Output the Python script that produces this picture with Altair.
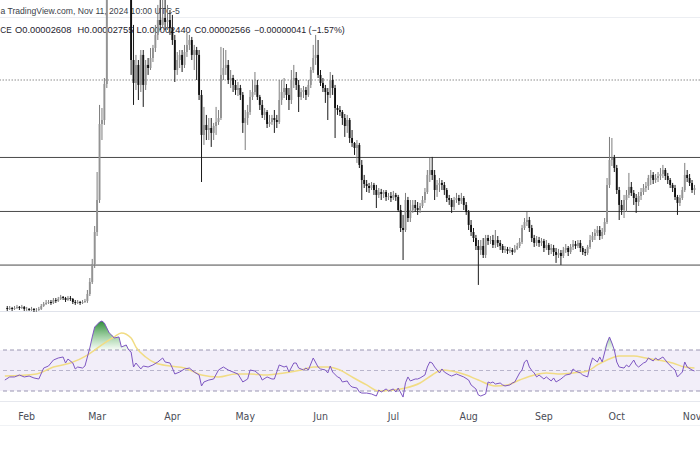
import altair as alt
import pandas as pd

# ---------------- data (price in units of 1e-6) ----------------
first_open = 8.56
close = [
    8.49, 8.56, 8.49, 8.56, 8.64, 8.56, 8.64, 8.49,
    8.49, 8.41, 8.49, 8.41, 8.41, 8.49, 8.71, 8.86, 8.94, 9.01, 8.94, 9.16, 9.09, 9.24, 9.39, 9.31, 9.16, 9.31, 9.24, 9.01, 8.94, 9.01, 8.94, 9.01, 9.09, 9.61, 10.51, 11.86, 14.26,
    16.66, 22.36, 22.66, 25.36, 33.91, 35.04, 34.66, 35.41, 35.04, 34.29, 34.66, 33.91, 34.51, 32.79, 27.16, 25.44, 26.79, 25.29, 27.54, 25.29, 26.79, 26.56, 27.31, 28.06, 29.04, 30.16, 29.79, 30.31, 30.01, 30.16, 29.56,
    28.66, 26.41, 27.16, 27.54, 26.79, 27.76, 28.29, 28.66, 27.54, 27.91, 27.54, 24.54, 21.54, 22.29, 21.91, 22.06, 21.69, 22.21, 22.51, 22.81, 26.04, 26.56, 26.79, 25.66, 25.81, 25.29, 24.91, 25.06, 24.54, 22.44,
    22.81, 23.26, 24.39, 24.76, 25.29, 24.39, 23.79, 23.04, 23.26, 22.36, 22.51, 22.81, 22.66, 22.51, 24.16, 24.76, 25.06, 24.54, 24.16, 25.66, 25.81, 25.29, 24.39, 24.76, 24.91, 24.54, 25.29, 26.41, 27.31, 27.54, 26.04,
    25.44, 25.06, 24.76, 24.54, 25.66, 25.06, 23.56, 23.41, 23.26, 22.81, 22.21, 22.66, 21.31, 20.94, 20.56, 20.79, 19.29, 18.16, 17.86, 17.71, 17.56, 17.79, 17.41, 17.04, 17.26, 17.11, 17.26, 16.89, 16.96, 16.81,
    17.04, 16.89, 15.91, 14.56, 14.41, 16.66, 15.31, 15.91, 16.29, 16.06, 15.91, 16.21, 16.66, 17.26, 18.54, 18.91, 18.54, 17.41, 17.79, 17.94, 17.79, 17.41, 16.81, 16.66, 16.14, 16.66, 16.81, 16.59, 16.81, 16.29, 15.76,
    14.79, 14.26, 13.81, 13.21, 12.91, 13.21, 12.54, 13.81, 13.59, 13.66, 13.29, 13.66, 13.44, 13.21, 12.91, 12.99, 12.84, 12.91, 12.76, 12.99, 13.21, 13.51, 14.56, 15.01, 15.16, 14.56, 13.81, 13.44, 13.66, 13.44, 13.59,
    13.06, 13.29, 12.91, 13.06, 12.76, 12.54, 12.69, 12.46, 12.91, 13.06, 12.76, 13.14, 13.36, 13.21, 13.44, 13.06, 12.76, 12.69, 13.14, 13.66, 13.96, 14.19, 14.41, 13.96, 14.26, 15.01, 17.79, 19.66, 19.81, 19.06,
    17.41, 16.29, 15.91, 16.66, 17.04, 17.64, 17.19, 16.81, 16.51, 16.96, 17.26, 17.56, 17.71, 18.31, 18.54, 18.16, 18.31, 18.46, 18.61, 18.91, 18.46, 18.16, 17.79, 17.56, 16.89, 16.44, 16.81, 17.41, 18.54, 18.31, 17.94,
    17.41, 17.56,
]
high = [
    8.71, 8.71, 8.64, 8.71, 8.79, 8.71, 8.79, 8.71,
    8.64, 8.56, 8.64, 8.56, 8.56, 8.64, 8.86, 9.01, 9.16, 9.16, 9.16, 9.31, 9.31, 9.39, 9.54, 9.46, 9.39, 9.46, 9.46, 9.31, 9.16, 9.16, 9.09, 9.16, 9.24, 9.91, 10.81, 12.24, 14.71,
    18.76, 23.79, 23.56, 25.81, 46.66, 38.41, 36.91, 37.66, 36.54, 36.16, 36.31, 35.79, 36.01, 35.41, 33.91, 29.79, 27.54, 27.16, 27.91, 27.91, 27.16, 27.31, 28.06, 28.29, 29.79, 31.29, 31.66, 32.04, 31.66, 31.29, 30.91,
    30.54, 29.04, 27.76, 27.91, 27.91, 28.29, 29.19, 29.04, 28.89, 28.29, 28.14, 27.91, 24.91, 23.64, 23.04, 22.81, 22.81, 22.44, 23.64, 23.41, 28.14, 28.06, 27.91, 27.16, 26.41, 26.04, 25.66, 25.51, 25.29, 24.76,
    23.41, 23.79, 24.91, 25.66, 26.26, 25.66, 24.54, 24.16, 23.56, 23.41, 23.04, 23.04, 23.41, 23.04, 25.66, 25.66, 25.81, 25.36, 25.06, 26.41, 26.79, 26.26, 25.66, 25.06, 25.21, 25.14, 25.66, 26.64, 28.29, 29.04, 28.66,
    26.41, 25.81, 25.29, 25.06, 26.26, 26.04, 25.29, 23.79, 23.71, 23.41, 23.11, 23.04, 22.81, 21.91, 21.01, 21.16, 20.94, 19.66, 18.54, 18.16, 17.94, 18.01, 17.94, 17.79, 17.56, 17.49, 17.41, 17.41, 17.19, 17.26,
    17.34, 17.19, 17.04, 16.29, 15.54, 17.19, 16.89, 16.66, 16.66, 16.66, 16.51, 16.44, 16.96, 17.56, 18.91, 19.81, 19.89, 18.91, 18.16, 18.31, 18.16, 18.01, 17.56, 17.04, 16.81, 16.89, 17.19, 17.04, 17.19, 16.96, 16.51,
    15.91, 15.16, 14.56, 14.04, 13.66, 13.66, 13.81, 14.04, 14.04, 13.96, 14.04, 14.41, 13.96, 13.66, 13.36, 13.21, 13.14, 13.14, 13.06, 13.29, 13.44, 13.81, 14.79, 15.31, 15.76, 15.39, 14.79, 14.04, 13.96, 13.89, 13.81,
    13.74, 13.66, 13.44, 13.36, 13.29, 13.06, 12.99, 12.91, 13.14, 13.36, 13.21, 13.36, 13.66, 13.59, 13.66, 13.66, 13.21, 12.99, 13.29, 14.04, 14.26, 14.49, 14.71, 14.71, 14.56, 15.31, 18.31, 21.39, 21.31, 20.04,
    19.29, 17.64, 16.66, 17.04, 17.41, 18.69, 18.01, 17.41, 17.11, 17.26, 17.56, 17.86, 18.01, 18.54, 18.91, 18.76, 18.61, 18.76, 19.06, 19.29, 19.06, 18.69, 18.31, 17.94, 17.79, 17.04, 17.04, 17.64, 19.44, 18.91, 18.61,
    18.16, 17.79,
]
low = [
    8.34, 8.41, 8.34, 8.41, 8.49, 8.41, 8.49, 8.34,
    8.34, 8.34, 8.34, 8.26, 8.26, 8.34, 8.41, 8.64, 8.79, 8.86, 8.79, 8.86, 8.94, 9.01, 9.16, 9.16, 9.01, 9.09, 9.09, 8.86, 8.79, 8.86, 8.79, 8.86, 8.94, 8.94, 9.46, 10.36, 11.56,
    13.96, 16.44, 21.16, 22.29, 25.06, 32.26, 32.41, 32.79, 33.54, 32.79, 32.41, 32.26, 32.79, 32.04, 26.04, 23.79, 24.91, 24.16, 24.76, 23.64, 24.91, 26.04, 26.41, 27.01, 27.76, 28.66, 29.41, 29.56, 29.41, 29.41, 29.04,
    28.29, 25.51, 26.04, 26.56, 26.26, 26.56, 27.39, 27.91, 27.16, 26.41, 25.66, 24.16, 18.01, 20.79, 21.16, 21.16, 20.64, 21.16, 21.54, 22.29, 22.66, 25.66, 26.04, 25.36, 25.06, 24.76, 24.54, 24.46, 24.16, 21.69,
    20.41, 22.29, 23.04, 24.16, 24.54, 24.16, 23.41, 22.81, 22.66, 22.06, 22.14, 22.29, 21.69, 22.06, 22.36, 23.79, 24.31, 24.16, 23.41, 23.86, 25.06, 24.91, 23.26, 24.16, 24.31, 24.16, 24.39, 25.06, 26.19, 26.79, 25.81,
    25.21, 24.76, 23.94, 22.66, 24.31, 24.54, 21.31, 23.04, 22.96, 22.29, 21.39, 21.69, 20.94, 20.64, 20.04, 19.44, 19.06, 16.66, 17.56, 17.26, 17.19, 17.41, 17.04, 16.06, 16.81, 16.66, 16.81, 16.59, 16.66, 16.51,
    16.66, 16.59, 15.76, 14.26, 12.16, 14.26, 15.01, 15.01, 15.69, 15.76, 15.54, 15.69, 16.06, 16.44, 17.11, 18.01, 18.16, 16.66, 16.89, 17.26, 17.41, 17.04, 16.51, 16.29, 15.69, 15.91, 16.44, 16.29, 16.36, 15.91, 15.54,
    14.41, 13.96, 13.51, 12.91, 10.29, 12.54, 12.31, 12.31, 13.29, 13.36, 13.06, 13.06, 13.14, 12.91, 12.69, 12.69, 12.61, 12.69, 12.54, 12.69, 12.91, 13.06, 13.36, 14.41, 14.71, 14.26, 13.51, 13.14, 13.21, 13.14, 13.21,
    12.76, 12.91, 12.54, 12.61, 12.46, 11.94, 12.31, 11.79, 12.31, 12.69, 12.46, 12.61, 12.91, 12.99, 13.06, 12.76, 12.54, 12.46, 12.54, 12.99, 13.51, 13.66, 13.96, 13.66, 13.74, 14.04, 14.86, 17.56, 19.21, 18.76,
    17.11, 15.16, 15.54, 15.31, 15.76, 16.81, 16.96, 16.29, 15.69, 16.21, 16.66, 17.04, 17.26, 17.41, 17.79, 17.86, 17.94, 18.01, 18.16, 18.31, 18.16, 17.86, 17.56, 17.26, 16.66, 15.54, 16.21, 16.66, 17.26, 18.01, 17.71,
    17.19, 17.04,
]
levels = [19.85, 15.80, 11.78]
last_price = 25.66

# RSI (days counted from 2024-01-23)
rsi_day = [
    0, 2, 4, 6, 8, 10, 12, 14, 16, 18,
    20, 22, 24, 25, 26, 28, 29, 30, 32, 33,
    35, 36, 37, 39, 40, 41, 43, 44, 45, 47,
    48, 50, 51, 52, 53, 54, 56, 57, 59, 61,
    63, 65, 66, 68, 69, 70, 72, 74, 76, 78,
    80, 81, 82, 84, 86, 88, 90, 92, 94, 96,
    98, 100, 101, 103, 105, 106, 108, 110, 111, 113,
    115, 116, 117, 119, 120, 121, 123, 124, 125, 127,
    129, 130, 132, 133, 134, 135, 137, 138, 139, 141,
    142, 143, 145, 146, 147, 149, 151, 153, 154, 155,
    157, 158, 160, 161, 162, 164, 165, 166, 167, 169,
    170, 171, 173, 174, 175, 176, 177, 179, 180, 181,
    183, 184, 186, 187, 189, 191, 192, 194, 195, 196,
    198, 199, 200, 201, 202, 204, 205, 206, 208, 209,
    210, 212, 213, 214, 215, 216, 217, 218, 219, 220,
    222, 223, 225, 226, 227, 229, 230, 231, 233, 234,
    235, 237, 238, 240, 241, 242, 244, 245, 246, 248,
    249, 250, 251, 252, 253, 255, 256, 257, 259, 260,
    261, 263, 264, 265, 267, 268, 269, 271, 272, 273,
    275, 276, 277, 279, 280, 281, 283, 284,
]
rsi_value = [
    40.7, 43.7, 43.7, 45.6, 43.7, 44.6, 42.7, 41.7, 52.4, 54.4,
    60.2, 62.2, 63.2, 57.3, 61.2, 57.3, 51.5, 53.4, 52.4, 54.4,
    72.0, 82.7, 92.4, 97.3, 98.3, 96.3, 86.6, 84.6, 81.7, 82.7,
    72.9, 74.9, 70.0, 68.0, 53.4, 57.3, 51.5, 54.4, 53.4, 55.4,
    58.3, 62.2, 58.3, 57.3, 52.4, 46.6, 48.5, 51.5, 52.4, 48.5,
    45.6, 34.9, 38.8, 40.7, 41.7, 50.5, 53.4, 50.5, 48.5, 46.6,
    38.8, 41.7, 50.5, 49.5, 45.6, 40.7, 43.7, 41.7, 41.7, 55.4,
    53.4, 54.4, 48.5, 57.3, 57.3, 52.4, 50.5, 52.4, 50.5, 62.2,
    53.4, 51.5, 50.5, 47.6, 54.4, 48.5, 43.7, 42.7, 38.8, 39.8,
    35.9, 33.9, 32.9, 29.0, 28.0, 28.0, 27.1, 25.1, 31.0, 29.0,
    32.0, 30.0, 32.0, 29.0, 32.9, 24.1, 38.0, 43.7, 39.8, 41.7,
    41.7, 42.7, 45.6, 53.4, 58.3, 57.3, 53.4, 47.6, 51.5, 48.5,
    45.6, 44.6, 46.6, 45.6, 43.7, 40.7, 35.9, 32.0, 26.1, 25.1,
    27.1, 38.8, 37.8, 38.8, 36.8, 37.8, 35.9, 34.9, 35.9, 37.8,
    38.8, 47.6, 50.5, 58.3, 60.2, 53.4, 50.0, 47.6, 43.7, 45.6,
    41.7, 43.7, 39.8, 42.7, 38.8, 41.7, 43.7, 45.6, 46.6, 51.5,
    49.5, 47.6, 45.6, 43.7, 54.4, 62.2, 58.3, 63.2, 58.3, 76.8,
    82.7, 76.8, 70.0, 58.3, 53.4, 52.4, 55.4, 53.4, 60.2, 55.4,
    53.4, 57.3, 58.3, 62.2, 59.3, 62.2, 60.2, 63.2, 60.2, 57.3,
    52.4, 50.5, 43.7, 48.5, 58.3, 53.4, 50.5, 49.5,
]
ma_day = [0, 13, 20, 27, 34, 41, 45, 48, 52, 54, 58, 62, 68, 74, 81, 88, 95, 101, 108, 115,
          122, 127, 133, 138, 143, 149, 154, 160, 165, 171, 176, 180, 184, 190, 195, 202, 207, 212, 218, 223,
          229, 234, 240, 244, 248, 253, 259, 264, 269, 275, 280, 284]
ma_value = [44.6, 46.6, 53.4, 57.3, 65.1, 76.8, 82.7, 86.6, 81.7, 72.9, 63.2, 57.3, 54.4, 52.4, 45.6, 43.7, 46.6, 46.6, 45.6, 47.6,
            50.5, 53.4, 53.4, 50.5, 43.7, 35.9, 30.0, 31.0, 32.9, 37.8, 45.6, 50.5, 49.5, 45.6, 40.7, 34.9, 35.9, 40.7, 45.6, 47.6,
            46.6, 47.6, 49.5, 55.4, 60.2, 64.1, 64.1, 62.2, 60.2, 57.3, 53.4, 52.4]
rsi_levels = [70, 50, 30]

month_names = ["Feb", "Mar", "Apr", "May", "Jun", "Jul", "Aug", "Sep", "Oct", "Nov"]
month_starts = ["2024-02-01", "2024-03-01", "2024-04-01", "2024-05-01", "2024-06-01",
                "2024-07-01", "2024-08-01", "2024-09-01", "2024-10-01", "2024-11-01"]

header_line1 = "a TradingView.com, Nov 11, 2024 10:00 UTC-5"
header_items = ["CE", "O0.00002608", "H0.00002755", "L0.00002440", "C0.00002566", "\u22120.00000041 (\u22121.57%)"]

# ---------------- tables ----------------
origin = pd.Timestamp("2024-01-23")
n = min(len(close), len(high), len(low))
dates = pd.date_range("2024-01-24", periods=n, freq="D")
candles = pd.DataFrame({
    "day": [(d - origin).days for d in dates],
    "open": [first_open] + close[: n - 1],
    "close": close[:n],
    "high": high[:n],
    "low": low[:n],
})
m = min(len(rsi_day), len(rsi_value))
rsi_df = pd.DataFrame({"day": rsi_day[:m], "rsi": rsi_value[:m]})
k = min(len(ma_day), len(ma_value))
ma_df = pd.DataFrame({"day": ma_day[:k], "ma": ma_value[:k]})
month_df = pd.DataFrame({"label": month_names,
                         "day": [(pd.Timestamp(s) - origin).days for s in month_starts]})

# ---------------- scales ----------------
W, H = 700, 450
x_scale = alt.Scale(domain=[0.07, 284.22], nice=False, zero=False)
p_scale = alt.Scale(domain=[8.26, 31.66], range=[312, 0], nice=False, zero=False)
r_scale = alt.Scale(domain=[0, 100], range=[421.75, 319.25], nice=False, zero=False)
X = alt.X("day:Q", scale=x_scale, axis=None)
is_up = alt.datum.close >= alt.datum.open

one = pd.DataFrame({"v": [0]})


def hline(ypix, color, width=1.0):
    return alt.Chart(one).mark_rule(color=color, strokeWidth=width).encode(y=alt.value(ypix))


def label(text, xpix, ypix, size, align="left", color="#1e222d"):
    return alt.Chart(pd.DataFrame({"t": [text]})).mark_text(
        align=align, baseline="alphabetic", fontSize=size, color=color,
        font="Liberation Sans, Arial, sans-serif"
    ).encode(x=alt.value(xpix), y=alt.value(ypix), text="t:N")


separators = [hline(17.5, "#eceef2"), hline(311.5, "#e0e3eb"), hline(401.5, "#e6e8ee"), hline(425.5, "#f0f2f5")]

level_rules = alt.Chart(pd.DataFrame({"price": levels})).mark_rule(color="#4a4a4a", strokeWidth=1).encode(
    y=alt.Y("price:Q", scale=p_scale, axis=None))
last_rule = alt.Chart(pd.DataFrame({"price": [last_price]})).mark_rule(
    color="#8d8d8d", strokeWidth=1, strokeDash=[1.5, 1.5]).encode(
    y=alt.Y("price:Q", scale=p_scale, axis=None))

head_x = [0.3, 15, 77.5, 136.5, 194.5, 254]
head_size = [8.2, 9.3, 9.3, 9.3, 9.3, 8.9]
header = [label(header_line1, 0.5, 13.5, 8.6, color="#3b3f4a")]
for i, t in enumerate(header_items):
    header.append(label(t, head_x[i], 32.7, head_size[i]))

wicks = alt.Chart(candles).mark_rule(strokeWidth=1, clip=True).encode(
    x=X,
    y=alt.Y("low:Q", scale=p_scale, axis=None), y2="high:Q",
    color=alt.condition(is_up, alt.value("#7d7d7d"), alt.value("#1a1a1a")))
bodies = alt.Chart(candles).mark_bar(size=1.9, clip=True).encode(
    x=X,
    y=alt.Y("open:Q", scale=p_scale, axis=None), y2="close:Q",
    color=alt.condition(is_up, alt.value("#939393"), alt.value("#111111")))

band = alt.Chart(pd.DataFrame({"hi": [70], "lo": [30]})).mark_rect(color="#7e57c2", opacity=0.1).encode(
    x=alt.value(0), x2=alt.value(W),
    y=alt.Y("hi:Q", scale=r_scale, axis=None), y2="lo:Q")
guides = alt.Chart(pd.DataFrame({"v": rsi_levels, "c": ["a", "b", "a"]})).mark_rule(
    strokeWidth=1, strokeDash=[4, 3]).encode(
    y=alt.Y("v:Q", scale=r_scale, axis=None),
    color=alt.Color("c:N", scale=alt.Scale(domain=["a", "b"], range=["#9a96b2", "#b9b5cc"]), legend=None))

ob_fill = alt.Chart(rsi_df).transform_calculate(
    top="max(datum.rsi, 70)", base="70").mark_area(
    color=alt.Gradient(gradient="linear",
                       stops=[alt.GradientStop(color="#2e8b3a", offset=0),
                              alt.GradientStop(color="rgba(76,175,80,0.04)", offset=1)],
                       x1=1, x2=1, y1=0, y2=1)).encode(
    x=X, y=alt.Y("top:Q", scale=r_scale, axis=None), y2="base:Q")

ma_line = alt.Chart(ma_df).mark_line(color="#f1dc84", strokeWidth=1.5, interpolate="monotone").encode(
    x=X, y=alt.Y("ma:Q", scale=r_scale, axis=None))
rsi_line = alt.Chart(rsi_df).mark_line(color="#7e57c2", strokeWidth=1).encode(
    x=X, y=alt.Y("rsi:Q", scale=r_scale, axis=None))

months = alt.Chart(month_df).mark_text(
    fontSize=10.5, color="#4a4d57", baseline="middle",
    font="Liberation Sans Narrow, DejaVu Sans Condensed, Liberation Sans, sans-serif").encode(
    x=X, y=alt.value(417), text="label:N")

layers = separators + [level_rules, last_rule] + header + [wicks, bodies, band, guides, ob_fill, ma_line, rsi_line, months]

chart = alt.layer(*layers).resolve_scale(y="independent", color="independent").properties(
    width=W, height=H, padding=0, background="white",
    autosize=alt.AutoSizeParams(type="none"),
).configure_view(stroke=None)

chart.save("out.html", embed_options={"renderer": "svg", "actions": False})
